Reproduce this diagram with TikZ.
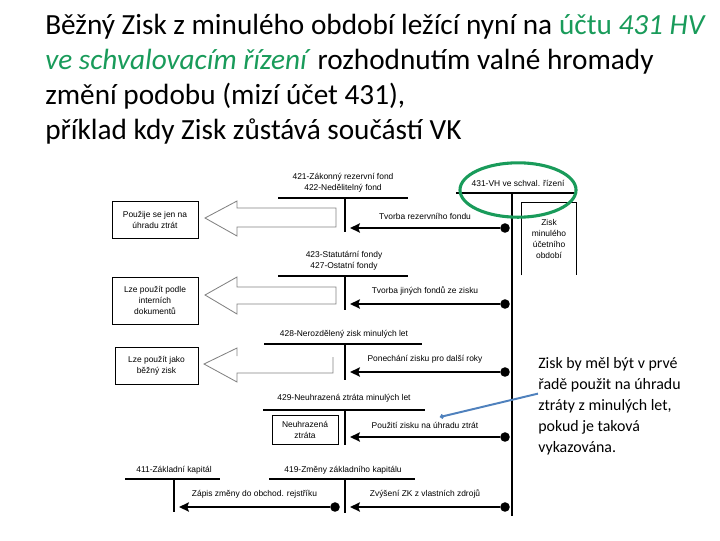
\documentclass[tikz,border=0pt]{standalone}
\usepackage{fontspec}
\setmainfont{Carlito}
\newfontfamily\diafont{Liberation Sans}
\usetikzlibrary{
    arrows.meta,
    positioning,
    calc
}
\definecolor{VHGreen}{RGB}{25,155,90}
\definecolor{NoteBlue}{RGB}{79,129,189}
\definecolor{ArrowGray}{RGB}{130,130,130}
\tikzset{
  acct/.style   = {font=\diafont\fontsize{6}{7.8}\selectfont, align=center,
                   inner sep=0pt},
  bar/.style    = {line width=2.1pt},
  flow/.style   = {-{Stealth[length=7pt,width=6.5pt,inset=1.2pt]}, line width=1.8pt},
  dot/.style    = {circle, fill=black, inner sep=0pt, minimum size=6.8pt},
  rowlbl/.style = {acct, above=5pt},
  usebox/.style = {acct, draw, line width=0.6pt},
  hollow/.style = {draw=ArrowGray, line width=0.6pt}
}

\begin{document}
\begin{tikzpicture}[
    x=0.025cm, y=-0.025cm,
    headline/.style = {anchor=north west, align=left, inner sep=0pt,
                       font=\fontsize{20.8}{24.9}\selectfont},
    notetext/.style = {anchor=north west, align=left, inner sep=0pt,
                       font=\fontsize{11.3}{15}\selectfont},
    notearr/.style  = {{Circle[length=3pt]}-, NoteBlue, line width=1.4pt}
  ]
  \useasboundingbox (0,0) rectangle (720,540);

  \node[headline] (title) at (45,14) {Běžný Zisk z minulého období ležící nyní na \textcolor{VHGreen}{účtu \textit{431 HV}}\\
    \textcolor{VHGreen}{\textit{ve schvalovacím řízení}} rozhodnutím valné hromady\\
    změní podobu (mizí účet 431),\\
    příklad kdy Zisk zůstává součástí VK};

  % 431 - main account
  \node[acct] (a431) at (518,183) {431-VH ve schval. řízení};
  \draw[bar] (456,193) -- (574,193);
  \draw[bar] (512,193) -- (512,516);
  \node[acct, minimum width=1.35cm, minimum height=1.8cm] (zisk) at (549,239)
    {Zisk\\minulého\\účetního\\období};
  \draw[line width=0.6pt] (zisk.south west) -- (zisk.north west)
    -- (zisk.north east) -- (zisk.south east);
  \coordinate (ring) at (518,190);
  \draw[VHGreen, line width=2.2pt] (ring) ellipse [x radius=1.45cm, y radius=0.68cm];

  % 421/422
  \node[acct] (a421) at (343,182.5) {421-Zákonný rezervní fond\\422-Nedělitelný fond};
  \draw[bar] (278,198) -- (408,198);
  \draw[bar] (345,198) -- (345,232);
  \node[dot] (d1) at (505,228) {};
  \coordinate (t1) at (350,228);
  \draw[flow] (d1) -- node[rowlbl] {Tvorba rezervního fondu} (t1);

  % 423/427
  \node[acct] (a423) at (344,260.5) {423-Statutární fondy\\427-Ostatní fondy};
  \draw[bar] (278,276) -- (408,276);
  \draw[bar] (345,276) -- (345,310);
  \node[dot] (d2) at (505,304) {};
  \coordinate (t2) at (350,304);
  \draw[flow] (d2) -- node[rowlbl] {Tvorba jiných fondů ze zisku} (t2);

  % 428
  \node[acct] (a428) at (344,334) {428-Nerozdělený zisk minulých let};
  \draw[bar] (264,344) -- (422,344);
  \draw[bar] (345,344) -- (345,380);
  \node[dot] (d3) at (505,372) {};
  \coordinate (t3) at (350,372);
  \draw[flow] (d3) -- node[rowlbl] {Ponechání zisku pro další roky} (t3);

  % 429
  \node[acct] (a429) at (344,398) {429-Neuhrazená ztráta minulých let};
  \draw[bar] (263,410) -- (425,410);
  \draw[bar] (345,410) -- (345,445);
  \node[usebox, minimum width=1.65cm, minimum height=0.725cm] (loss) at (305,429.5)
    {Neuhrazená\\ztráta};
  \node[dot] (d4) at (505,437) {};
  \coordinate (t4) at (350,437);
  \draw[flow] (d4) -- node[rowlbl] {Použití zisku na úhradu ztrát} (t4);

  % 419 and 411
  \node[acct] (a419) at (343,470) {419-Změny základního kapitálu};
  \draw[bar] (269,479) -- (415,479);
  \draw[bar] (345,479) -- (345,513);
  \node[dot] (d5) at (505,507) {};
  \coordinate (t5) at (350,507);
  \draw[flow] (d5) -- node[rowlbl] {Zvýšení ZK z vlastních zdrojů} (t5);

  \node[acct] (a411) at (174,470) {411-Základní kapitál};
  \draw[bar] (125,479) -- (220,479);
  \draw[bar] (174,479) -- (174,512);
  \node[dot] (d6) at (335,507) {};
  \coordinate (t6) at (179,507);
  \draw[flow] (d6) -- node[rowlbl] {Zápis změny do obchod. rejstříku} (t6);

  % use of the funds
  \node[usebox, minimum width=2.15cm, minimum height=0.925cm] (u1) at (155,219.5)
    {Použije se jen na\\úhradu ztrát};
  \node[usebox, minimum width=2.15cm, minimum height=1.175cm] (u2) at (155,300.5)
    {Lze použít podle\\interních\\dokumentů};
  \node[usebox, minimum width=2.075cm, minimum height=0.925cm] (u3) at (156.5,365.5)
    {Lze použít jako\\běžný zisk};
  \draw[hollow] (336,208) -- (237,208) -- (237,201) -- (205,218) -- (237,236)
    -- (237,227) -- (336,227) -- cycle;
  \draw[hollow] (336,287) -- (237,287) -- (237,277) -- (205,295) -- (237,314)
    -- (237,304) -- (336,304) -- cycle;
  \draw[hollow] (237,356) -- (237,348) -- (204,364) -- (237,382)
    -- (237,373) -- (333,373) -- (333,357);

  % note
  \node[notetext] (note) at (538,357) {Zisk by měl být v prvé\\řadě použit na úhradu\\ztráty z minulých let,\\pokud je taková\\vykazována.};
  \coordinate (clue) at (440,417);
  \draw[notearr] (clue) -- ([yshift=9pt]note.west);

\end{tikzpicture}
\end{document}
